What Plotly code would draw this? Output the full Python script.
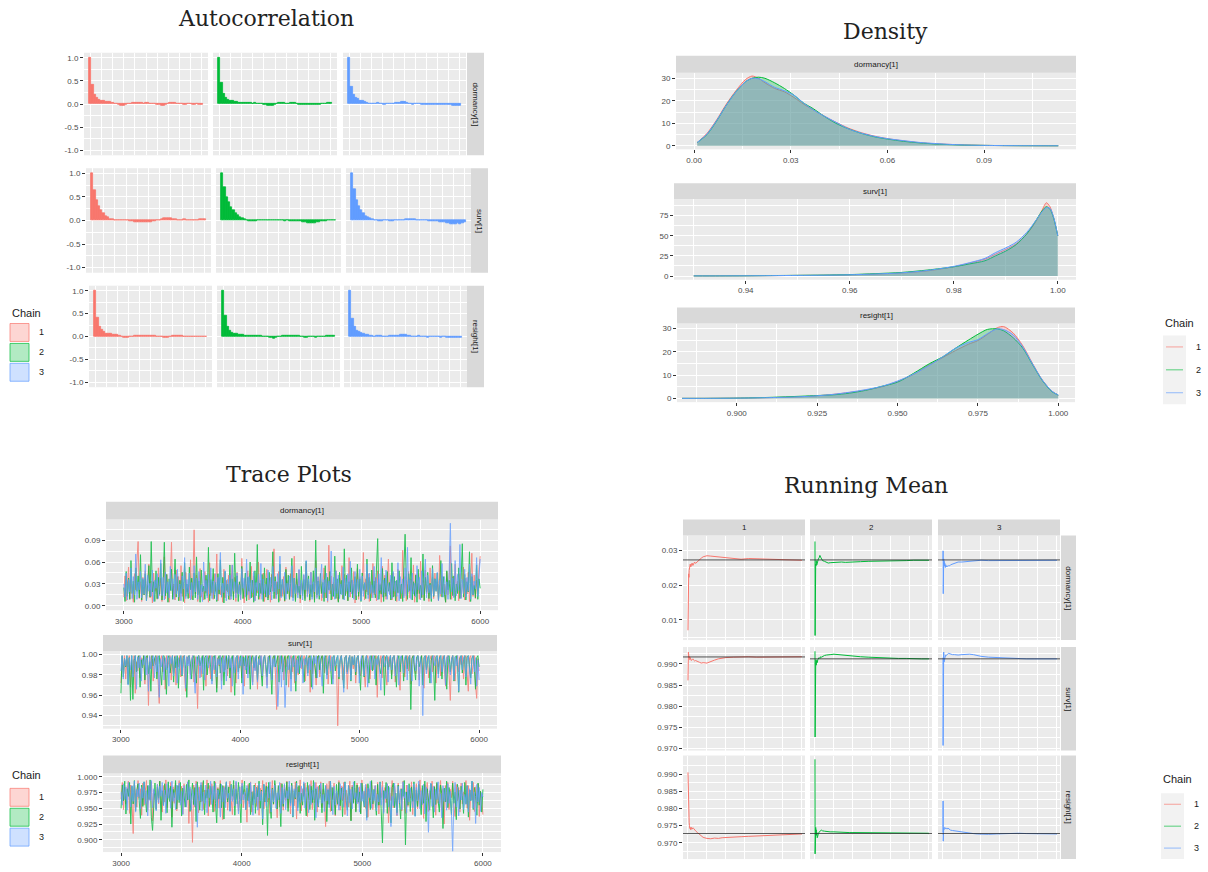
import numpy as np
import plotly.graph_objects as go

W, H = 1208, 872
SANS = "Liberation Sans, Arial, sans-serif"
SERIF = "DejaVu Serif, serif"
RED, GREEN, BLUE = "#F8766D", "#00BA38", "#619CFF"
chain_colors = [RED, GREEN, BLUE]
chain_names = ["1", "2", "3"]
params = ["dormancy[1]", "surv[1]", "resight[1]"]

# ---------------- Autocorrelation (lags 0..50) ----------------
acf_dormancy_c1 = [1.00, 0.42, 0.20, 0.13, 0.10, 0.07, 0.06, 0.05, 0.04, 0.04, 0.03, 0.01, 0.00, -0.02, -0.03, -0.03, -0.01, 0.00, 0.01, 0.02, 0.02, 0.02, 0.02, 0.02, 0.01, 0.02, 0.02, 0.01, 0.01, 0.00, -0.01, -0.02, -0.03, -0.03, -0.01, 0.01, 0.02, 0.02, 0.02, 0.01, 0.00, 0.00, -0.01, -0.01, 0.00, 0.00, -0.01, -0.01, 0.00, -0.01, -0.02]
acf_dormancy_c2 = [1.00, 0.45, 0.22, 0.14, 0.09, 0.07, 0.06, 0.05, 0.04, 0.03, 0.02, 0.02, 0.02, 0.02, 0.02, 0.01, 0.02, 0.01, 0.00, 0.00, -0.01, -0.02, -0.03, -0.04, -0.03, -0.01, 0.00, 0.02, 0.03, 0.02, 0.01, 0.01, 0.02, 0.03, 0.02, 0.00, -0.01, -0.02, -0.02, -0.01, -0.01, -0.02, -0.02, -0.01, -0.01, -0.01, 0.00, 0.00, 0.01, 0.02, 0.02]
acf_dormancy_c3 = [1.00, 0.38, 0.20, 0.14, 0.11, 0.08, 0.06, 0.04, 0.02, 0.01, 0.01, 0.00, 0.01, 0.02, 0.01, 0.00, -0.01, 0.00, 0.01, 0.00, 0.01, 0.02, 0.02, 0.03, 0.04, 0.04, 0.03, 0.01, 0.00, -0.01, 0.00, 0.01, 0.00, -0.01, -0.01, -0.02, -0.01, -0.01, -0.02, -0.01, -0.01, -0.01, -0.02, -0.01, -0.02, -0.02, -0.02, -0.03, -0.03, -0.04, -0.04]
acf_surv_c1 = [1.00, 0.64, 0.42, 0.31, 0.22, 0.15, 0.10, 0.06, 0.03, 0.02, 0.01, 0.01, 0.01, 0.01, 0.00, 0.00, 0.00, -0.01, -0.02, -0.03, -0.03, -0.04, -0.04, -0.04, -0.04, -0.03, -0.03, -0.02, -0.01, 0.00, 0.01, 0.03, 0.04, 0.04, 0.05, 0.04, 0.03, 0.02, 0.01, 0.01, 0.01, 0.02, 0.01, 0.00, 0.00, 0.00, 0.01, 0.01, 0.02, 0.02, 0.03]
acf_surv_c2 = [1.00, 0.70, 0.50, 0.38, 0.29, 0.22, 0.16, 0.11, 0.07, 0.04, 0.02, 0.00, -0.01, -0.02, -0.01, -0.01, 0.00, 0.00, 0.01, 0.01, 0.01, 0.00, 0.00, 0.00, 0.01, 0.01, 0.00, 0.00, -0.01, 0.00, -0.01, -0.01, -0.01, -0.02, -0.02, -0.02, -0.03, -0.04, -0.05, -0.05, -0.06, -0.05, -0.04, -0.03, -0.02, -0.01, -0.01, 0.00, 0.01, 0.01, 0.01]
acf_surv_c3 = [1.00, 0.66, 0.44, 0.30, 0.22, 0.15, 0.10, 0.07, 0.04, 0.02, 0.01, 0.00, -0.01, -0.01, 0.00, 0.00, 0.00, -0.01, -0.01, 0.00, 0.00, 0.00, 0.01, 0.01, 0.02, 0.02, 0.03, 0.03, 0.02, 0.01, 0.01, 0.01, 0.00, 0.00, -0.01, -0.01, -0.02, -0.02, -0.02, -0.03, -0.03, -0.04, -0.05, -0.06, -0.07, -0.08, -0.07, -0.06, -0.07, -0.05, -0.03]
acf_resight_c1 = [1.00, 0.40, 0.21, 0.14, 0.10, 0.07, 0.05, 0.05, 0.04, 0.03, 0.03, 0.01, 0.00, -0.02, -0.03, -0.02, -0.01, 0.00, 0.01, 0.02, 0.02, 0.02, 0.01, 0.02, 0.02, 0.02, 0.01, 0.01, 0.00, 0.00, -0.01, -0.02, -0.03, -0.03, -0.01, 0.01, 0.02, 0.02, 0.01, 0.01, 0.00, 0.00, -0.01, 0.00, 0.00, -0.01, -0.01, 0.00, 0.00, -0.01, -0.01]
acf_resight_c2 = [1.00, 0.46, 0.21, 0.13, 0.09, 0.07, 0.05, 0.04, 0.04, 0.03, 0.02, 0.02, 0.02, 0.01, 0.02, 0.01, 0.01, 0.01, 0.00, 0.00, -0.01, -0.02, -0.03, -0.04, -0.03, -0.01, 0.00, 0.02, 0.02, 0.02, 0.01, 0.01, 0.02, 0.02, 0.01, 0.00, -0.01, -0.02, -0.02, -0.01, -0.01, -0.01, -0.02, -0.01, -0.01, 0.00, 0.00, 0.01, 0.01, 0.02, 0.02]
acf_resight_c3 = [1.00, 0.39, 0.21, 0.13, 0.10, 0.08, 0.06, 0.04, 0.03, 0.02, 0.01, 0.00, 0.01, 0.02, 0.01, 0.00, -0.01, 0.00, 0.01, 0.01, 0.01, 0.02, 0.02, 0.03, 0.03, 0.03, 0.02, 0.01, 0.00, -0.01, 0.00, 0.01, 0.00, -0.01, -0.01, -0.02, -0.01, -0.01, -0.01, -0.01, -0.01, -0.02, -0.01, -0.01, -0.02, -0.02, -0.02, -0.02, -0.03, -0.03, -0.03]

# ---------------- Density ----------------
dens_dormancy_x = [0.001, 0.004, 0.007, 0.010, 0.013, 0.016, 0.018, 0.020, 0.022, 0.025, 0.028, 0.031, 0.034, 0.037, 0.040, 0.044, 0.048, 0.052, 0.056, 0.060, 0.065, 0.070, 0.075, 0.080, 0.085, 0.090, 0.096, 0.102, 0.108, 0.113]
dens_dormancy_c1 = [1.5, 5.5, 11.5, 18.5, 24.5, 29.5, 31.0, 30.0, 28.0, 25.5, 24.0, 21.5, 18.5, 16.0, 13.5, 10.5, 7.8, 5.8, 4.3, 3.2, 2.2, 1.4, 0.9, 0.6, 0.35, 0.2, 0.1, 0.06, 0.03, 0.02]
dens_dormancy_c2 = [1.5, 5.0, 11.0, 18.0, 24.0, 28.5, 30.0, 30.5, 30.0, 28.0, 25.5, 22.5, 19.0, 16.5, 13.5, 10.0, 7.5, 5.5, 4.0, 3.0, 2.0, 1.3, 0.8, 0.5, 0.3, 0.2, 0.1, 0.05, 0.03, 0.02]
dens_dormancy_c3 = [1.5, 5.2, 11.2, 18.0, 24.0, 28.5, 30.0, 29.8, 28.5, 26.0, 24.5, 22.5, 19.0, 16.0, 13.5, 10.5, 7.5, 5.6, 4.2, 3.2, 2.3, 1.5, 1.0, 0.6, 0.35, 0.2, 0.1, 0.06, 0.03, 0.02]

dens_surv_x = [0.930, 0.935, 0.940, 0.945, 0.950, 0.955, 0.960, 0.965, 0.970, 0.975, 0.980, 0.983, 0.986, 0.988, 0.990, 0.992, 0.994, 0.995, 0.996, 0.997, 0.9978, 0.9985, 0.9992, 1.000]
dens_surv_c1 = [0.2, 0.2, 0.3, 0.5, 0.8, 1.0, 1.5, 2.5, 3.8, 6.5, 11.5, 16, 21, 27, 33, 40, 52, 60, 70, 82, 91, 86, 72, 50]
dens_surv_c2 = [0.2, 0.2, 0.3, 0.6, 0.9, 1.2, 1.8, 3.0, 4.5, 7.5, 11.5, 15, 19, 25, 31, 39, 52, 61, 71, 81, 86, 83, 72, 50]
dens_surv_c3 = [0.2, 0.2, 0.3, 0.5, 0.8, 1.1, 1.6, 2.6, 4.0, 7.0, 12, 16.5, 22, 29, 35, 42, 54, 62, 71, 80, 85, 84, 73, 50]

dens_resight_x = [0.883, 0.890, 0.900, 0.910, 0.920, 0.925, 0.930, 0.935, 0.940, 0.945, 0.950, 0.955, 0.960, 0.964, 0.968, 0.972, 0.975, 0.978, 0.981, 0.983, 0.986, 0.989, 0.992, 0.995, 0.998, 1.000]
dens_resight_c1 = [0.1, 0.1, 0.2, 0.4, 0.8, 1.2, 1.8, 2.6, 3.6, 5.0, 7.3, 10.4, 14.5, 17.5, 20.5, 23.2, 24.8, 27.5, 30.3, 30.8, 28.0, 22.5, 15.0, 8.0, 3.2, 1.5]
dens_resight_c2 = [0.1, 0.1, 0.2, 0.5, 1.0, 1.3, 1.6, 2.3, 3.5, 5.2, 7.0, 10.8, 15.0, 17.8, 21.5, 25.0, 27.5, 29.6, 29.8, 29.0, 26.0, 21.5, 14.5, 7.8, 3.0, 1.5]
dens_resight_c3 = [0.1, 0.1, 0.2, 0.4, 0.8, 1.2, 1.8, 2.7, 3.8, 5.2, 7.5, 10.5, 14.3, 17.8, 21.5, 24.0, 25.2, 27.8, 29.8, 29.5, 27.2, 22.0, 14.8, 8.0, 3.2, 1.5]

# ---------------- Trace plots: thinned draws, iterations 3000..6000, values in thousandths ----------------
trace_dormancy_c1_x1000 = [
    12, 41, 7, 29, 53, 9, 36, 18, 5, 44, 22, 61, 88, 10, 33,
    6, 39, 15, 48, 8, 27, 57, 11, 34, 4, 45, 20, 31, 9, 52,
    14, 38, 6, 26, 67, 10, 43, 17, 5, 35, 87, 12, 30, 8, 49,
    21, 40, 7, 55, 13, 32, 4, 46, 19, 28, 11, 63, 9, 37, 104,
    16, 42, 6, 30, 51, 12, 24, 8, 47, 18, 36, 5, 59, 14, 33,
    9, 44, 20, 71, 7, 38, 15, 27, 5, 50, 11, 35, 19, 42, 8,
    29, 56, 13, 39, 6, 46, 17, 32, 10, 65, 22, 4, 37, 14, 48,
    8, 31, 54, 12, 41, 7, 26, 18, 60, 9, 35, 15, 45, 6, 28,
    50, 11, 38, 5, 43, 20, 78, 10, 33, 16, 47, 7, 29, 13, 40,
    6, 53, 18, 35, 9, 44, 12, 25, 68, 8, 37, 15, 49, 4, 31,
    21, 42, 10, 57, 14, 33, 6, 46, 19, 30, 8, 62, 12, 39, 17,
    45, 7, 28, 52, 11, 36, 5, 83, 16, 41, 9, 32, 20, 48, 13,
    6, 38, 24, 55, 10, 43, 15, 29, 7, 66, 12, 35, 18, 47, 4,
    30, 51, 9, 40, 14, 26, 73, 8, 37, 19, 44, 6, 33, 11, 58,
    15, 39, 7, 48, 21, 31, 5, 54, 12, 42, 9, 27, 64, 16, 36,
    8, 45, 13, 34, 6, 50, 18, 29, 10, 76, 14, 40, 7, 25, 47,
    11, 37, 20, 56, 5, 43, 16, 31, 9, 61, 12, 35, 8, 49, 17,
    28, 6, 52, 14, 39, 10, 45, 22, 33, 7, 69, 13, 41, 18, 30,
    5, 47, 15, 36, 82, 9, 40, 12, 57, 19, 34, 7, 44, 11, 29,
    53, 8, 38, 16, 46, 6, 31, 72, 13, 42, 10, 35, 20, 50, 68]
trace_dormancy_c2_x1000 = [
    25, 6, 47, 13, 38, 9, 62, 17, 34, 5, 52, 20, 41, 11, 70,
    8, 36, 15, 44, 7, 29, 55, 12, 88, 19, 33, 6, 48, 10, 39,
    16, 58, 8, 31, 87, 14, 43, 5, 37, 21, 50, 9, 28, 64, 12,
    40, 7, 35, 17, 46, 6, 59, 13, 30, 10, 53, 22, 38, 8, 45,
    11, 67, 15, 34, 5, 49, 19, 27, 9, 42, 14, 80, 7, 36, 18,
    51, 10, 32, 6, 44, 16, 63, 12, 39, 4, 47, 21, 30, 9, 56,
    13, 37, 8, 72, 18, 41, 6, 33, 15, 54, 10, 28, 45, 7, 39,
    20, 60, 11, 35, 5, 48, 14, 84, 9, 31, 17, 43, 6, 52, 12,
    38, 8, 46, 19, 29, 74, 10, 40, 15, 33, 5, 57, 13, 36, 22,
    7, 50, 16, 42, 9, 31, 65, 11, 38, 6, 45, 18, 27, 10, 54,
    14, 36, 7, 61, 20, 41, 8, 29, 12, 48, 5, 90, 15, 34, 9,
    44, 17, 32, 6, 55, 11, 39, 22, 47, 8, 30, 13, 68, 10, 37,
    5, 46, 16, 35, 9, 78, 14, 42, 7, 33, 19, 52, 11, 28, 40,
    8, 57, 13, 37, 6, 45, 21, 31, 10, 64, 15, 39, 7, 49, 18,
    34, 11, 43, 92, 9, 29, 16, 51, 6, 38, 13, 47, 20, 32, 8,
    59, 12, 40, 7, 35, 18, 48, 10, 30, 6, 54, 98, 36, 9, 44,
    21, 66, 8, 33, 14, 42, 5, 50, 17, 28, 11, 71, 7, 39, 19,
    46, 10, 31, 6, 55, 13, 37, 20, 45, 8, 29, 62, 12, 40, 16,
    5, 48, 22, 35, 9, 58, 14, 41, 7, 30, 17, 52, 10, 36, 85,
    12, 43, 8, 33, 19, 74, 6, 40, 15, 28, 11, 56, 9, 37, 24]
trace_dormancy_c3_x1000 = [
    30, 12, 45, 8, 36, 19, 52, 10, 40, 15, 71, 9, 33, 22, 47,
    11, 38, 16, 57, 7, 42, 20, 31, 13, 49, 6, 35, 24, 44, 10,
    28, 63, 14, 39, 8, 46, 18, 33, 11, 54, 21, 37, 9, 43, 16,
    50, 12, 30, 7, 41, 23, 66, 10, 36, 17, 45, 8, 32, 14, 55,
    19, 38, 9, 47, 13, 29, 6, 60, 20, 35, 11, 43, 16, 52, 10,
    34, 15, 44, 8, 39, 22, 73, 12, 31, 18, 48, 7, 36, 14, 42,
    9, 56, 20, 33, 11, 45, 16, 29, 8, 51, 24, 38, 12, 64, 15,
    40, 10, 35, 18, 47, 7, 32, 21, 43, 13, 58, 9, 37, 17, 30,
    12, 49, 15, 39, 8, 54, 19, 34, 10, 44, 23, 68, 11, 36, 16,
    46, 9, 31, 20, 41, 13, 55, 7, 38, 17, 29, 11, 50, 15, 35,
    8, 43, 22, 62, 12, 37, 16, 46, 9, 33, 19, 52, 10, 40, 14,
    31, 57, 11, 36, 18, 45, 7, 34, 21, 75, 13, 39, 9, 48, 17,
    42, 10, 30, 15, 53, 8, 38, 20, 44, 12, 61, 16, 35, 9, 47,
    14, 36, 19, 50, 7, 41, 13, 32, 22, 57, 10, 45, 17, 29, 11,
    54, 16, 38, 8, 44, 21, 66, 12, 35, 18, 49, 9, 31, 15, 42,
    10, 47, 20, 34, 13, 59, 7, 40, 17, 37, 11, 52, 14, 80, 19,
    36, 9, 45, 16, 31, 12, 55, 22, 39, 8, 48, 15, 33, 64, 11,
    42, 18, 29, 10, 51, 14, 37, 20, 46, 7, 35, 16, 58, 12, 40,
    15, 33, 9, 47, 113, 19, 38, 11, 62, 14, 43, 21, 84, 10, 36,
    17, 50, 12, 39, 20, 57, 9, 44, 15, 34, 23, 66, 13, 41, 64]

trace_surv_c1_x1000 = [
    972, 998, 985, 999, 976, 996, 988, 999, 968, 995, 981, 999, 962, 993, 984,
    999, 977, 997, 989, 999, 971, 994, 999, 950, 998, 986, 999, 974, 996, 990,
    999, 979, 952, 995, 999, 983, 997, 966, 999, 987, 994, 999, 975, 998, 982,
    999, 970, 996, 988, 999, 978, 997, 999, 985, 964, 998, 991, 999, 980, 995,
    999, 973, 998, 986, 947, 999, 992, 978, 997, 999, 983, 969, 996, 999, 988,
    976, 999, 994, 981, 999, 967, 997, 989, 999, 974, 995, 999, 985, 998, 979,
    999, 990, 963, 997, 999, 984, 972, 998, 999, 987, 995, 977, 999, 969, 996,
    988, 999, 981, 994, 999, 973, 997, 985, 999, 966, 998, 990, 999, 978, 995,
    999, 984, 970, 998, 999, 989, 976, 996, 999, 982, 946, 997, 999, 986, 993,
    999, 975, 998, 988, 999, 968, 995, 999, 983, 997, 972, 999, 990, 980, 998,
    999, 986, 994, 999, 974, 997, 989, 999, 963, 996, 981, 999, 987, 970, 998,
    999, 978, 995, 999, 988, 982, 997, 999, 971, 994, 999, 985, 976, 998, 991,
    990, 930, 983, 996, 999, 975, 988, 997, 999, 966, 995, 999, 980, 998, 986,
    999, 972, 994, 999, 987, 979, 997, 999, 984, 968, 996, 999, 990, 976, 998,
    999, 985, 995, 999, 958, 997, 989, 999, 977, 994, 999, 983, 970, 998, 988,
    999, 980, 996, 999, 973, 993, 999, 986, 965, 997, 999, 990, 978, 995, 999,
    984, 999, 971, 997, 999, 988, 981, 996, 999, 975, 994, 999, 985, 967, 998,
    999, 989, 977, 995, 999, 983, 997, 999, 972, 996, 988, 999, 979, 994, 999,
    986, 969, 998, 999, 980, 955, 997, 999, 987, 974, 995, 999, 983, 998, 990,
    999, 976, 996, 999, 985, 964, 997, 999, 981, 993, 999, 970, 957, 996, 984]
trace_surv_c2_x1000 = [
    962, 999, 978, 996, 988, 999, 971, 997, 955, 999, 956, 994, 999, 983, 997,
    999, 968, 995, 987, 999, 975, 998, 999, 981, 993, 964, 999, 989, 996, 999,
    976, 997, 999, 985, 970, 998, 999, 990, 961, 996, 999, 982, 994, 999, 973,
    998, 987, 999, 967, 995, 999, 979, 997, 999, 986, 958, 998, 999, 991, 976,
    996, 999, 984, 972, 998, 999, 989, 994, 999, 965, 997, 999, 980, 995, 999,
    987, 974, 998, 999, 990, 963, 996, 999, 982, 997, 999, 970, 994, 999, 986,
    999, 977, 995, 999, 988, 960, 997, 999, 983, 994, 999, 972, 998, 989, 999,
    981, 996, 999, 966, 997, 999, 987, 993, 999, 975, 998, 999, 984, 969, 996,
    999, 990, 978, 997, 999, 985, 961, 998, 999, 988, 995, 999, 973, 997, 999,
    983, 994, 999, 970, 998, 999, 986, 976, 997, 999, 990, 964, 996, 999, 981,
    997, 999, 987, 973, 995, 999, 982, 998, 999, 968, 994, 999, 989, 977, 998,
    999, 985, 996, 999, 962, 997, 999, 980, 993, 999, 988, 971, 998, 999, 984,
    996, 999, 976, 994, 999, 989, 967, 997, 999, 983, 995, 999, 974, 998, 990,
    999, 980, 997, 999, 986, 965, 996, 999, 978, 994, 999, 988, 972, 998, 999,
    984, 995, 999, 970, 997, 999, 987, 981, 996, 999, 960, 998, 999, 985, 993,
    999, 976, 997, 999, 989, 968, 995, 999, 983, 998, 999, 974, 994, 999, 986,
    997, 999, 946, 996, 999, 984, 975, 998, 999, 988, 993, 999, 970, 997, 999,
    985, 996, 999, 972, 994, 999, 989, 955, 998, 999, 981, 997, 999, 976, 995,
    999, 987, 966, 998, 999, 983, 994, 999, 974, 997, 999, 990, 963, 996, 999,
    982, 995, 999, 970, 998, 999, 986, 977, 996, 999, 988, 966, 997, 999, 988]
trace_surv_c3_x1000 = [
    984, 999, 976, 996, 989, 999, 970, 997, 985, 999, 978, 995, 999, 966, 998,
    987, 999, 974, 996, 990, 999, 980, 997, 964, 999, 986, 995, 999, 977, 998,
    983, 999, 958, 996, 988, 999, 975, 997, 985, 999, 969, 998, 991, 999, 979,
    996, 999, 972, 997, 986, 999, 980, 995, 999, 967, 998, 989, 999, 976, 996,
    999, 984, 962, 998, 990, 999, 977, 997, 981, 999, 975, 996, 999, 987, 995,
    999, 971, 998, 985, 999, 978, 996, 990, 999, 966, 997, 983, 999, 974, 995,
    999, 987, 997, 969, 999, 982, 996, 999, 976, 998, 989, 999, 961, 997, 985,
    999, 977, 995, 999, 988, 970, 998, 984, 999, 973, 996, 990, 999, 979, 997,
    999, 986, 967, 998, 981, 999, 975, 996, 988, 999, 982, 949, 984, 999, 968,
    998, 990, 948, 976, 996, 985, 999, 964, 997, 988, 999, 974, 995, 982, 999,
    987, 999, 972, 996, 990, 999, 979, 997, 985, 999, 966, 998, 991, 999, 977,
    995, 999, 983, 969, 997, 999, 988, 976, 996, 999, 984, 998, 971, 999, 989,
    996, 999, 978, 994, 999, 986, 963, 997, 999, 981, 995, 999, 975, 998, 990,
    999, 983, 996, 999, 972, 994, 999, 987, 979, 997, 999, 968, 995, 999, 985,
    998, 999, 976, 996, 990, 999, 982, 965, 997, 999, 988, 994, 999, 973, 996,
    999, 985, 997, 999, 979, 993, 999, 970, 996, 999, 987, 982, 998, 999, 975,
    996, 999, 988, 974, 997, 999, 984, 995, 999, 969, 998, 990, 940, 996, 999,
    981, 997, 999, 986, 972, 998, 999, 989, 995, 999, 977, 996, 999, 983, 994,
    999, 970, 997, 999, 987, 980, 996, 999, 975, 998, 989, 999, 964, 995, 999,
    985, 997, 999, 978, 994, 999, 988, 971, 996, 999, 983, 997, 969, 995, 975]

trace_resight_c1_x1000 = [
    965, 991, 948, 983, 957, 976, 993, 942, 987, 961, 910, 989, 970, 952, 994,
    966, 981, 939, 990, 955, 978, 994, 947, 985, 963, 992, 930, 979, 968, 949,
    988, 957, 993, 972, 944, 986, 960, 995, 951, 980, 967, 991, 936, 984, 958,
    990, 946, 976, 994, 962, 985, 941, 989, 969, 953, 992, 926, 981, 964, 896,
    987, 952, 993, 971, 943, 984, 960, 991, 948, 979, 966, 995, 938, 986, 956,
    989, 970, 945, 992, 961, 983, 950, 994, 967, 932, 985, 958, 990, 947, 978,
    993, 963, 940, 987, 955, 991, 972, 946, 984, 962, 995, 951, 980, 969, 928,
    988, 957, 992, 944, 977, 965, 990, 953, 986, 939, 982, 968, 994, 949, 975,
    991, 960, 985, 942, 973, 994, 956, 989, 966, 935, 983, 952, 990, 970, 947,
    987, 962, 993, 950, 979, 941, 988, 967, 954, 992, 933, 984, 961, 995, 946,
    981, 969, 990, 953, 937, 986, 963, 994, 948, 978, 959, 991, 944, 985, 966,
    992, 951, 980, 970, 921, 989, 957, 993, 945, 983, 964, 990, 938, 976, 955,
    994, 947, 985, 962, 991, 940, 979, 968, 952, 993, 931, 987, 960, 982, 946,
    990, 958, 984, 943, 995, 965, 977, 950, 988, 936, 981, 963, 992, 948, 973,
    986, 955, 991, 941, 978, 967, 993, 944, 983, 959, 989, 927, 975, 962, 994,
    951, 985, 969, 938, 990, 957, 981, 946, 993, 964, 942, 987, 953, 979, 966,
    992, 940, 984, 961, 989, 949, 975, 995, 956, 982, 934, 988, 963, 991, 945,
    978, 965, 993, 952, 985, 939, 989, 958, 972, 994, 947, 981, 925, 986, 960,
    991, 948, 980, 967, 993, 954, 937, 988, 962, 983, 944, 990, 957, 976, 969,
    994, 950, 986, 931, 979, 963, 991, 945, 984, 958, 989, 937, 977, 966, 940]
trace_resight_c2_x1000 = [
    950, 987, 962, 993, 941, 981, 969, 991, 925, 985, 957, 994, 946, 979, 989,
    960, 934, 987, 953, 992, 972, 944, 986, 964, 995, 936, 915, 958, 990, 948,
    984, 966, 993, 931, 978, 955, 989, 970, 943, 992, 961, 985, 920, 980, 967,
    994, 949, 986, 959, 991, 938, 982, 971, 952, 988, 963, 995, 945, 977, 990,
    956, 983, 929, 992, 968, 947, 987, 961, 994, 940, 979, 966, 990, 953, 985,
    970, 944, 993, 958, 927, 981, 965, 989, 951, 986, 933, 978, 992, 960, 984,
    946, 988, 969, 994, 939, 980, 957, 991, 964, 927, 985, 972, 993, 948, 982,
    962, 990, 940, 976, 955, 987, 942, 983, 968, 993, 950, 979, 924, 988, 960,
    985, 907, 991, 966, 934, 982, 957, 994, 971, 949, 986, 963, 921, 989, 953,
    980, 967, 992, 945, 984, 958, 990, 936, 978, 965, 993, 951, 986, 942, 974,
    955, 989, 963, 938, 991, 970, 948, 985, 959, 994, 931, 981, 966, 952, 987,
    972, 943, 990, 961, 985, 929, 979, 956, 993, 946, 983, 968, 940, 988, 957,
    991, 954, 982, 937, 975, 992, 962, 947, 986, 969, 930, 984, 958, 993, 944,
    987, 960, 976, 941, 990, 965, 952, 983, 935, 989, 971, 948, 994, 957, 980,
    963, 939, 988, 955, 992, 946, 895, 978, 966, 991, 942, 985, 960, 927, 983,
    990, 951, 974, 943, 987, 962, 933, 981, 969, 994, 892, 976, 955, 989, 945,
    984, 961, 992, 938, 979, 953, 988, 967, 940, 986, 958, 993, 929, 981, 964,
    947, 989, 970, 935, 984, 956, 991, 962, 944, 987, 973, 918, 982, 960, 993,
    951, 983, 966, 940, 990, 958, 976, 932, 988, 964, 949, 985, 970, 942, 991,
    957, 986, 936, 979, 962, 993, 948, 983, 969, 939, 990, 955, 977, 944, 980]
trace_resight_c3_x1000 = [
    976, 955, 989, 964, 984, 947, 991, 970, 952, 986, 961, 993, 944, 980, 968,
    990, 949, 983, 966, 992, 957, 978, 938, 987, 962, 994, 951, 981, 972, 946,
    988, 959, 985, 969, 991, 954, 979, 942, 989, 966, 982, 950, 993, 961, 975,
    948, 987, 963, 990, 955, 977, 940, 986, 968, 952, 992, 964, 984, 947, 980,
    971, 953, 989, 920, 983, 962, 991, 946, 976, 958, 987, 943, 981, 967, 993,
    956, 985, 964, 990, 949, 979, 970, 936, 988, 960, 983, 951, 992, 966, 974,
    945, 987, 961, 981, 954, 993, 968, 941, 984, 957, 990, 963, 976, 948, 986,
    965, 952, 991, 970, 939, 985, 958, 982, 947, 989, 962, 977, 933, 988, 969,
    953, 984, 966, 992, 944, 980, 960, 987, 950, 975, 963, 991, 942, 983, 957,
    989, 948, 978, 965, 993, 954, 986, 937, 981, 967, 990, 946, 976, 959, 985,
    961, 992, 950, 983, 969, 943, 988, 956, 979, 964, 991, 935, 984, 953, 977,
    990, 958, 972, 945, 987, 962, 981, 951, 993, 966, 940, 985, 955, 978, 968,
    947, 989, 963, 984, 952, 991, 970, 938, 986, 959, 980, 949, 992, 965, 975,
    957, 983, 944, 990, 961, 977, 953, 988, 931, 982, 967, 993, 950, 979, 962,
    986, 946, 972, 960, 991, 955, 984, 942, 978, 965, 989, 952, 983, 921, 969,
    954, 990, 963, 939, 985, 958, 980, 948, 992, 966, 976, 943, 987, 960, 982,
    967, 951, 989, 937, 983, 962, 993, 949, 978, 956, 988, 941, 984, 968, 912,
    976, 990, 953, 985, 944, 980, 964, 992, 957, 973, 935, 986, 961, 982, 947,
    989, 958, 977, 943, 882, 965, 991, 952, 984, 938, 979, 963, 990, 948, 972,
    956, 986, 944, 981, 962, 993, 950, 976, 926, 988, 960, 983, 945, 975, 968]
trace_first_iter, trace_last_iter = 3000, 6000

# ---------------- Running mean ----------------
run_iter = [1, 4, 8, 12, 16, 20, 26, 32, 40, 50, 60, 75, 90, 110, 130, 150, 175, 200, 250, 300,
            350, 400, 500, 600, 700, 800, 900, 1000, 1200, 1400, 1600, 1800, 2000, 2200, 2400, 2600, 2800, 3000]
run_dormancy_c1 = [0.0070, 0.0120, 0.0190, 0.0165, 0.0210, 0.0232, 0.0222, 0.0242, 0.0250, 0.0256, 0.0260, 0.0252, 0.0259, 0.0263, 0.0256, 0.0261, 0.0266, 0.0262, 0.0268, 0.0272, 0.0277, 0.0281, 0.0284, 0.0283, 0.0282, 0.0280, 0.0281, 0.0279, 0.0277, 0.0274, 0.0276, 0.0275, 0.0276, 0.0274, 0.0273, 0.0272, 0.0272, 0.0271]
run_dormancy_c2 = [0.0325, 0.0055, 0.0300, 0.0250, 0.0275, 0.0260, 0.0255, 0.0270, 0.0262, 0.0258, 0.0265, 0.0270, 0.0275, 0.0278, 0.0285, 0.0280, 0.0276, 0.0270, 0.0268, 0.0265, 0.0263, 0.0264, 0.0265, 0.0266, 0.0266, 0.0265, 0.0266, 0.0267, 0.0267, 0.0268, 0.0268, 0.0269, 0.0269, 0.0270, 0.0270, 0.0271, 0.0271, 0.0271]
run_dormancy_c3 = [0.0270, 0.0298, 0.0175, 0.0280, 0.0265, 0.0275, 0.0260, 0.0268, 0.0255, 0.0262, 0.0250, 0.0258, 0.0252, 0.0255, 0.0253, 0.0256, 0.0255, 0.0258, 0.0260, 0.0262, 0.0265, 0.0266, 0.0266, 0.0267, 0.0268, 0.0269, 0.0270, 0.0271, 0.0270, 0.0270, 0.0269, 0.0270, 0.0270, 0.0271, 0.0271, 0.0271, 0.0271, 0.0271]
run_surv_c1 = [0.9861, 0.9925, 0.9912, 0.9928, 0.9918, 0.9922, 0.9915, 0.9913, 0.9917, 0.9910, 0.9915, 0.9912, 0.9908, 0.9910, 0.9912, 0.9909, 0.9907, 0.9908, 0.9905, 0.9904, 0.9902, 0.9903, 0.9902, 0.9906, 0.9909, 0.9912, 0.9914, 0.9915, 0.9916, 0.9917, 0.9917, 0.9916, 0.9916, 0.9917, 0.9917, 0.9917, 0.9917, 0.9917]
run_surv_c2 = [0.9930, 0.9727, 0.9915, 0.9905, 0.9922, 0.9900, 0.9910, 0.9897, 0.9905, 0.9908, 0.9903, 0.9910, 0.9912, 0.9915, 0.9913, 0.9917, 0.9916, 0.9918, 0.9920, 0.9921, 0.9922, 0.9922, 0.9923, 0.9922, 0.9921, 0.9920, 0.9919, 0.9918, 0.9917, 0.9916, 0.9915, 0.9914, 0.9914, 0.9913, 0.9913, 0.9912, 0.9912, 0.9912]
run_surv_c3 = [0.9915, 0.9707, 0.9912, 0.9925, 0.9918, 0.9928, 0.9912, 0.9905, 0.9908, 0.9914, 0.9918, 0.9921, 0.9920, 0.9923, 0.9924, 0.9925, 0.9924, 0.9923, 0.9922, 0.9922, 0.9921, 0.9921, 0.9922, 0.9923, 0.9923, 0.9922, 0.9920, 0.9918, 0.9916, 0.9915, 0.9914, 0.9913, 0.9913, 0.9912, 0.9912, 0.9912, 0.9912, 0.9912]
run_resight_c1 = [0.9905, 0.9880, 0.9830, 0.9800, 0.9790, 0.9775, 0.9770, 0.9760, 0.9750, 0.9742, 0.9745, 0.9738, 0.9745, 0.9740, 0.9744, 0.9742, 0.9738, 0.9735, 0.9730, 0.9725, 0.9720, 0.9716, 0.9713, 0.9712, 0.9714, 0.9713, 0.9715, 0.9716, 0.9717, 0.9718, 0.9719, 0.9720, 0.9721, 0.9722, 0.9723, 0.9724, 0.9725, 0.9726]
run_resight_c2 = [0.9943, 0.9668, 0.9758, 0.9740, 0.9710, 0.9745, 0.9725, 0.9738, 0.9722, 0.9730, 0.9715, 0.9720, 0.9728, 0.9732, 0.9735, 0.9736, 0.9737, 0.9735, 0.9734, 0.9733, 0.9733, 0.9732, 0.9732, 0.9731, 0.9731, 0.9731, 0.9730, 0.9730, 0.9730, 0.9729, 0.9729, 0.9729, 0.9728, 0.9728, 0.9728, 0.9728, 0.9728, 0.9728]
run_resight_c3 = [0.9730, 0.9822, 0.9705, 0.9735, 0.9718, 0.9742, 0.9738, 0.9745, 0.9740, 0.9743, 0.9741, 0.9744, 0.9742, 0.9740, 0.9743, 0.9741, 0.9739, 0.9737, 0.9736, 0.9735, 0.9734, 0.9733, 0.9731, 0.9729, 0.9728, 0.9727, 0.9726, 0.9725, 0.9725, 0.9726, 0.9727, 0.9728, 0.9728, 0.9727, 0.9727, 0.9726, 0.9726, 0.9726]
run_mean_dormancy = [0.0272, 0.0272, 0.0272]
run_mean_surv = [0.99165, 0.9912, 0.9912]
run_mean_resight = [0.9727, 0.9727, 0.9727]

# ======================================================================
def rgba(h, a):
    h = h.lstrip('#')
    return f"rgba({int(h[0:2],16)},{int(h[2:4],16)},{int(h[4:6],16)},{a})"

def fx(p):
    return p / W

def fy(p):
    return 1 - p / H

fig = go.Figure()
layout_axes = {}
shapes = []
annotations = []
counter = [0]
TICKFONT = dict(family=SANS, size=8, color="#4D4D4D")


def axis_dict(dom, anchor, rng, maj, mnr, labels):
    d = dict(domain=dom, anchor=anchor, range=rng, tickmode="array", tickvals=maj,
             showgrid=True, gridcolor="white", gridwidth=1.1, zeroline=False, showline=False,
             minor=dict(tickmode="array", tickvals=mnr, showgrid=True, gridcolor="white", gridwidth=0.5, ticks=""),
             fixedrange=True)
    if labels is None:
        d.update(showticklabels=False, ticks="")
    else:
        d.update(ticktext=labels, ticks="outside", ticklen=3, tickwidth=1, tickcolor="#333333",
                 tickfont=TICKFONT)
    return d


def add_axes(box, xr, yr, xmaj, xmin, ymaj, ymin, xlab=None, ylab=None):
    counter[0] += 1
    k = counter[0]
    s = "" if k == 1 else str(k)
    l, t, r, b = box
    layout_axes["xaxis" + s] = axis_dict([fx(l), fx(r)], "y" + s, xr, xmaj, xmin, xlab)
    layout_axes["yaxis" + s] = axis_dict([fy(b), fy(t)], "x" + s, yr, ymaj, ymin, ylab)
    return "x" + s, "y" + s


def add_strip(box, text, vertical=False):
    l, t, r, b = box
    shapes.append(dict(type="rect", xref="paper", yref="paper", x0=fx(l), x1=fx(r), y0=fy(b), y1=fy(t),
                       fillcolor="#D9D9D9", line=dict(width=0), layer="below"))
    annotations.append(dict(x=fx((l + r) / 2), y=fy((t + b) / 2), xref="paper", yref="paper", text=text,
                            showarrow=False, textangle=90 if vertical else 0,
                            font=dict(family=SANS, size=8, color="#1A1A1A"),
                            xanchor="center", yanchor="middle"))


def add_title(text, cx, cy):
    annotations.append(dict(x=fx(cx), y=fy(cy), xref="paper", yref="paper", text=text, showarrow=False,
                            font=dict(family=SERIF, size=22, color="#222222"),
                            xanchor="center", yanchor="middle"))

# ---------------- Autocorrelation panels ----------------
acf_data = [[acf_dormancy_c1, acf_dormancy_c2, acf_dormancy_c3],
            [acf_surv_c1, acf_surv_c2, acf_surv_c3],
            [acf_resight_c1, acf_resight_c2, acf_resight_c3]]
acf_rows = [(52, 155), (168, 273), (286, 388)]
acf_cols = [[(84, 208), (213, 337), (343, 466)],
            [(86, 211), (216, 341), (346, 471)],
            [(89, 212), (217, 340), (344, 467)]]
acf_strip_x = [(467, 484), (471, 488), (467, 484)]
acf_ymaj = [-1.0, -0.5, 0.0, 0.5, 1.0]
acf_ymin = [-0.75, -0.25, 0.25, 0.75]
for ri in range(3):
    t, b = acf_rows[ri]
    for ci in range(3):
        l, r = acf_cols[ri][ci]
        xr_, yr_ = add_axes((l, t, r, b), [-2.8, 52.8], [-1.11, 1.11],
                            [0, 10, 20, 30, 40, 50], [5, 15, 25, 35, 45],
                            acf_ymaj, acf_ymin, None,
                            ["-1.0", "-0.5", "0.0", "0.5", "1.0"] if ci == 0 else None)
        vals = acf_data[ri][ci]
        fig.add_trace(go.Bar(x=list(range(len(vals))), y=vals, width=1.0, xaxis=xr_, yaxis=yr_,
                             marker=dict(color=chain_colors[ci], line=dict(width=0.8, color=chain_colors[ci])),
                             showlegend=False))
    sl, sr = acf_strip_x[ri]
    add_strip((sl, t, sr, b), params[ri], vertical=True)

# ---------------- Density panels ----------------
dens_x = [dens_dormancy_x, dens_surv_x, dens_resight_x]
dens_y = [[dens_dormancy_c1, dens_dormancy_c2, dens_dormancy_c3],
          [dens_surv_c1, dens_surv_c2, dens_surv_c3],
          [dens_resight_c1, dens_resight_c2, dens_resight_c3]]
dens_boxes = [(676, 72, 1076, 149), (674, 199, 1076, 280), (677, 324, 1075, 403)]
dens_strips = [(676, 55, 1076, 72), (674, 183, 1076, 199), (677, 308, 1075, 324)]
dens_cfg = [
    dict(xr=[-0.0056, 0.1185], yr=[-1.55, 32.5], xmaj=[0.0, 0.03, 0.06, 0.09], xmin=[0.015, 0.045, 0.075, 0.105],
         xlab=["0.00", "0.03", "0.06", "0.09"], ymaj=[0, 10, 20, 30], ymin=[5, 15, 25], ylab=["0", "10", "20", "30"]),
    dict(xr=[0.9262, 1.0035], yr=[-4.55, 95.5], xmaj=[0.94, 0.96, 0.98, 1.00], xmin=[0.93, 0.95, 0.97, 0.99],
         xlab=["0.94", "0.96", "0.98", "1.00"], ymaj=[0, 25, 50, 75], ymin=[12.5, 37.5, 62.5, 87.5], ylab=["0", "25", "50", "75"]),
    dict(xr=[0.8814, 1.0052], yr=[-1.53, 32.1], xmaj=[0.900, 0.925, 0.950, 0.975, 1.000],
         xmin=[0.8875, 0.9125, 0.9375, 0.9625, 0.9875], xlab=["0.900", "0.925", "0.950", "0.975", "1.000"],
         ymaj=[0, 10, 20, 30], ymin=[5, 15, 25], ylab=["0", "10", "20", "30"]),
]
for pi in range(3):
    c = dens_cfg[pi]
    xr_, yr_ = add_axes(dens_boxes[pi], c["xr"], c["yr"], c["xmaj"], c["xmin"], c["ymaj"], c["ymin"],
                        c["xlab"], c["ylab"])
    for ci in range(3):
        fig.add_trace(go.Scatter(x=dens_x[pi], y=dens_y[pi][ci], mode="lines", xaxis=xr_, yaxis=yr_,
                                 line=dict(color=chain_colors[ci], width=1, shape="spline", smoothing=0.8),
                                 fill="tozeroy", fillcolor=rgba(chain_colors[ci], 0.3), showlegend=False))
    add_strip(dens_strips[pi], params[pi])

# ---------------- Trace panels ----------------
trace_y = [[trace_dormancy_c1_x1000, trace_dormancy_c2_x1000, trace_dormancy_c3_x1000],
           [trace_surv_c1_x1000, trace_surv_c2_x1000, trace_surv_c3_x1000],
           [trace_resight_c1_x1000, trace_resight_c2_x1000, trace_resight_c3_x1000]]
trace_boxes = [(106, 521, 498, 612), (103, 653, 497, 731), (103, 776, 501, 855)]
trace_strips = [(106, 503, 498, 521), (103, 637, 497, 653), (103, 758, 501, 776)]
trace_cfg = [
    dict(yr=[-0.0059, 0.118], ymaj=[0.0, 0.03, 0.06, 0.09], ymin=[0.015, 0.045, 0.075, 0.105],
         ylab=["0.00", "0.03", "0.06", "0.09"]),
    dict(yr=[0.9272, 1.0036], ymaj=[0.94, 0.96, 0.98, 1.00], ymin=[0.93, 0.95, 0.97, 0.99],
         ylab=["0.94", "0.96", "0.98", "1.00"]),
    dict(yr=[0.8806, 1.0053], ymaj=[0.900, 0.925, 0.950, 0.975, 1.000], ymin=[0.8875, 0.9125, 0.9375, 0.9625, 0.9875],
         ylab=["0.900", "0.925", "0.950", "0.975", "1.000"]),
]
txmaj = [3000, 4000, 5000, 6000]
txmin = [3500, 4500, 5500]
for pi in range(3):
    c = trace_cfg[pi]
    xr_, yr_ = add_axes(trace_boxes[pi], [2850, 6150], c["yr"], txmaj, txmin, c["ymaj"], c["ymin"],
                        [str(v) for v in txmaj], c["ylab"])
    for ci in range(3):
        vals = np.array(trace_y[pi][ci]) / 1000.0
        its = np.linspace(trace_first_iter, trace_last_iter, len(vals))
        fig.add_trace(go.Scatter(x=its, y=vals, mode="lines", xaxis=xr_, yaxis=yr_, opacity=0.8,
                                 line=dict(color=chain_colors[ci], width=1), showlegend=False))
    add_strip(trace_strips[pi], params[pi])

# ---------------- Running mean panels ----------------
run_y = [[run_dormancy_c1, run_dormancy_c2, run_dormancy_c3],
         [run_surv_c1, run_surv_c2, run_surv_c3],
         [run_resight_c1, run_resight_c2, run_resight_c3]]
run_means = [run_mean_dormancy, run_mean_surv, run_mean_resight]
run_cols = [(683, 805), (810, 932), (938, 1060)]
run_rows = [(537, 642), (649, 753), (758, 862)]
run_strip_x = (1061, 1076)
run_top_strip = (521, 537)
run_cfg = [
    dict(yr=[0.0042, 0.0342], ymaj=[0.01, 0.02, 0.03], ymin=[0.005, 0.015, 0.025], ylab=["0.01", "0.02", "0.03"]),
    dict(yr=[0.9695, 0.9940], ymaj=[0.970, 0.975, 0.980, 0.985, 0.990], ymin=[0.9725, 0.9775, 0.9825, 0.9875, 0.9925],
         ylab=["0.970", "0.975", "0.980", "0.985", "0.990"]),
    dict(yr=[0.9653, 0.9954], ymaj=[0.970, 0.975, 0.980, 0.985, 0.990], ymin=[0.9675, 0.9725, 0.9775, 0.9825, 0.9875, 0.9925],
         ylab=["0.970", "0.975", "0.980", "0.985", "0.990"]),
]
for ri in range(3):
    t, b = run_rows[ri]
    c = run_cfg[ri]
    for ci in range(3):
        l, r = run_cols[ci]
        xr_, yr_ = add_axes((l, t, r, b), [-130, 3080], c["yr"], [0, 1000, 2000, 3000], [500, 1500, 2500],
                            c["ymaj"], c["ymin"], None, c["ylab"] if ci == 0 else None)
        fig.add_trace(go.Scatter(x=run_iter, y=run_y[ri][ci], mode="lines", xaxis=xr_, yaxis=yr_,
                                 line=dict(color=chain_colors[ci], width=1), showlegend=False))
        shapes.append(dict(type="line", xref=xr_ + " domain", yref=yr_, x0=0, x1=1,
                           y0=run_means[ri][ci], y1=run_means[ri][ci],
                           line=dict(color="rgba(40,40,40,0.8)", width=1)))
    add_strip((run_strip_x[0], t, run_strip_x[1], b), params[ri], vertical=True)
for ci in range(3):
    l, r = run_cols[ci]
    add_strip((l, run_top_strip[0], r, run_top_strip[1]), chain_names[ci])

# ---------------- Titles ----------------
add_title("Autocorrelation", 266, 18)
add_title("Density", 885, 31)
add_title("Trace Plots", 289, 476)
add_title("Running Mean", 866, 487)

# ---------------- Legends ----------------
def legend_boxes(x0, ytitle, ykey0):
    annotations.append(dict(x=fx(x0), y=fy(ytitle), xref="paper", yref="paper", text="Chain", showarrow=False,
                            xanchor="left", yanchor="middle", font=dict(family=SANS, size=11, color="#1A1A1A")))
    for i in range(3):
        t = ykey0 + 20 * i
        shapes.append(dict(type="rect", xref="paper", yref="paper", x0=fx(x0), x1=fx(x0 + 19),
                           y0=fy(t + 18), y1=fy(t), fillcolor=rgba(chain_colors[i], 0.3),
                           line=dict(color=rgba(chain_colors[i], 0.7), width=1)))
        annotations.append(dict(x=fx(x0 + 27), y=fy(t + 9), xref="paper", yref="paper", text=chain_names[i],
                                showarrow=False, xanchor="left", yanchor="middle",
                                font=dict(family=SANS, size=9, color="#1A1A1A")))


def legend_lines(x0, ytitle, ykey0, step):
    annotations.append(dict(x=fx(x0), y=fy(ytitle), xref="paper", yref="paper", text="Chain", showarrow=False,
                            xanchor="left", yanchor="middle", font=dict(family=SANS, size=11, color="#1A1A1A")))
    shapes.append(dict(type="rect", xref="paper", yref="paper", x0=fx(x0), x1=fx(x0 + 23),
                       y0=fy(ykey0 + 3 * step), y1=fy(ykey0), fillcolor="#F2F2F2", line=dict(width=0)))
    for i in range(3):
        yc = ykey0 + step * i + step / 2
        shapes.append(dict(type="line", xref="paper", yref="paper", x0=fx(x0 + 3), x1=fx(x0 + 20),
                           y0=fy(yc), y1=fy(yc), line=dict(color=rgba(chain_colors[i], 0.55), width=1.2)))
        annotations.append(dict(x=fx(x0 + 31), y=fy(yc), xref="paper", yref="paper", text=chain_names[i],
                                showarrow=False, xanchor="left", yanchor="middle",
                                font=dict(family=SANS, size=9, color="#1A1A1A")))


legend_boxes(10, 313, 324)
legend_boxes(10, 778, 791)
legend_lines(1163, 323, 336, 23)
legend_lines(1161, 782, 796, 22)

fig.update_layout(
    width=W, height=H, margin=dict(l=0, r=0, t=0, b=0),
    paper_bgcolor="white", plot_bgcolor="#EBEBEB",
    bargap=0, barmode="overlay", showlegend=False,
    shapes=shapes, annotations=annotations,
    **layout_axes,
)
fig.write_html("out.html")
